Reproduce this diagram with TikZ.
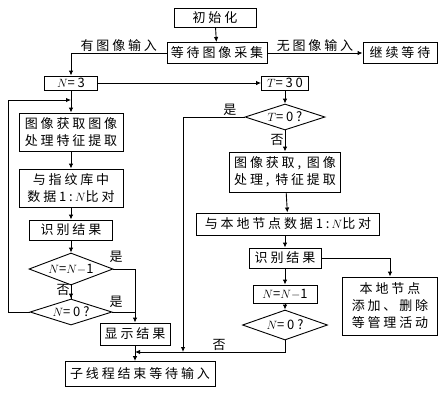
\documentclass[tikz,border=0pt]{standalone}
\usepackage{fontspec}
\newfontfamily\cjk[LetterSpace=22]{Noto Sans CJK SC}
\usetikzlibrary{arrows.meta,shapes.geometric}

\begin{document}
\begin{tikzpicture}[
    x=1pt,y=-1pt,
    font=\cjk\fontsize{13}{17}\selectfont,
    b/.style={draw,line width=.9pt,inner sep=1pt,align=center},
    d/.style={diamond,draw,line width=.9pt,inner sep=0pt,aspect=3},
    e/.style={-{Latex[length=5pt,width=4.5pt]},line width=.9pt},
    l/.style={line width=.9pt},
    lbl/.style={inner sep=1pt}
  ]
    \useasboundingbox (0,0) rectangle (441,400);
    % top part
    \node[b,minimum width=82,minimum height=19] (init) at (215,18) {初始化};
    \node[b,minimum width=100,minimum height=21] (wait) at (217,53) {等待图像采集};
    \node[b,minimum width=74,minimum height=21] (cont) at (400,53) {继续等待};
    \node[b,minimum width=53,minimum height=14] (n3) at (71,83) {$N$=3};
    \node[b,minimum width=47,minimum height=14] (t30) at (285,83) {$T$=30};
    % left column
    \node[b,minimum width=104,minimum height=38] (lacq) at (71,132) {图像获取图像\\处理特征提取};
    \node[b,minimum width=104,minimum height=38] (lcmp) at (71,188) {与指纹库中\\数据1:\,$N$比对};
    \node[b,minimum width=83,minimum height=20] (lres) at (71,230) {识别结果};
    \node[d,minimum width=84,minimum height=32] (ld1) at (71,269) {$N$=$N$$-$1};
    \node[d,minimum width=82,minimum height=26] (ld2) at (71,312) {$N$=0?};
    \node[b,minimum width=70,minimum height=22] (show) at (135,334) {显示结果};
    \node[b,minimum width=150,minimum height=25] (endn) at (140,374) {子线程结束等待输入};
    % right column
    \node[d,minimum width=80,minimum height=26] (rd0) at (285,117) {$T$=0?};
    \node[b,minimum width=111,minimum height=40] (racq) at (285,172) {图像获取, 图像\\处理, 特征提取};
    \node[b,minimum width=183,minimum height=22] (rcmp) at (288,224) {与本地节点数据1:\,$N$比对};
    \node[b,minimum width=72,minimum height=20] (rres) at (285,258) {识别结果};
    \node[b,minimum width=64,minimum height=18] (rdec) at (285,294) {$N$=$N$$-$1};
    \node[d,minimum width=85,minimum height=30] (rd1) at (285,325) {$N$=0?};
    \node[b,minimum width=95,minimum height=58] (local) at (390,306) {本地节点\\添加、删除\\等管理活动};
    \coordinate (lp) at (8,100);
    \coordinate (yj) at (183,352);
    \coordinate (mg) at (135,352);
    % connectors
    \draw[e] (init) -- (wait);
    \draw[e] (wait) -- node[lbl,above]{无图像输入} (cont);
    \draw[e] (wait.west) -- node[lbl,above]{有图像输入} (wait.west -| n3.north) -- (n3.north);
    \draw[e] (n3) -- (t30);
    \foreach \s/\t in {n3/lacq,lacq/lcmp,lcmp/lres,lres/ld1,ld1/ld2,t30/rd0,racq/rcmp,rres/rdec,rdec/rd1} {\draw[e] (\s) -- (\t);}
    \draw[e] (rd0) -- node[lbl,left,pos=.45]{否} (racq);
    \draw[e] (rcmp.south -| rres.north) -- (rres);
    \draw[l] (ld1) -- node[lbl,left,pos=.35]{否} (ld2);
    \draw[e] (ld2.west) -| (lp) -- (lp -| n3.south);
    \draw[e] (ld1.east) -| (show.north);
    \draw[l] (ld2.east) -- (ld2.east -| show.north);
    \node[lbl] (y1) at (116,257) {是};
    \node[lbl] (y2) at (116,302) {是};
    \draw[e] (show) -- (show.south |- endn.north);
    \draw[e] (rd0.west) -| node[lbl,pos=.12,above]{是} (yj);
    \draw[e] (rd1.south) |- node[lbl,pos=.72,above]{否} (mg);
    \draw[e] (rres.east) -| (local.north);
  \end{tikzpicture}
\end{document}
